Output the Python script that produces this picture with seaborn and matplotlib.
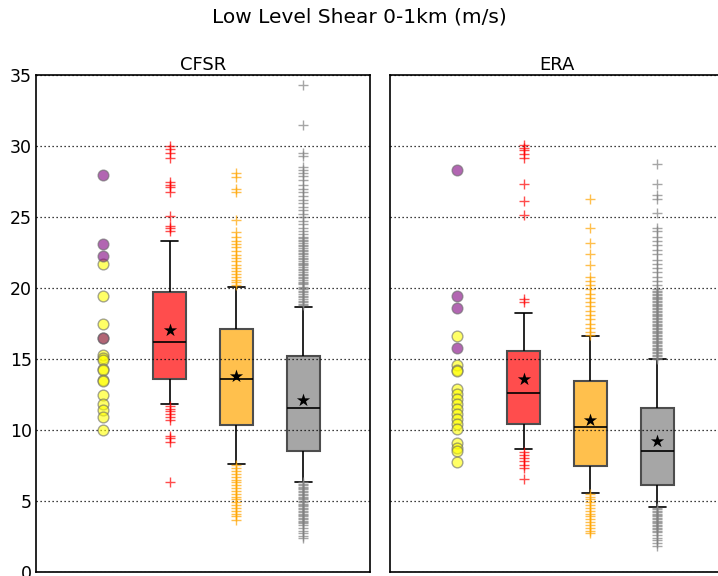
import numpy as np
import pandas as pd
import seaborn as sns
import matplotlib.pyplot as plt

# ---------------- data ----------------
panels = ["CFSR", "ERA"]
box_positions = [2, 3, 4]
scatter_position = 1
box_colors = ["#FF4D4D", "#FFC04D", "#A6A6A6"]
flier_colors = ["red", "orange", "gray"]

# five-number summaries: [lower whisker, Q1, median, Q3, upper whisker]
cfsr_red_box = [11.82, 13.57, 16.22, 19.70, 23.34]
cfsr_orange_box = [7.59, 10.32, 13.61, 17.11, 20.10]
cfsr_gray_box = [6.35, 8.51, 11.52, 15.21, 18.69]
era_red_box = [8.67, 10.41, 12.62, 15.58, 18.26]
era_orange_box = [5.57, 7.45, 10.20, 13.42, 16.60]
era_gray_box = [4.54, 6.09, 8.53, 11.54, 14.97]

cfsr_means = [17.02, 13.80, 12.11]
era_means = [13.61, 10.70, 9.24]

cfsr_red_fliers = [30.0, 29.8, 29.5, 29.2, 27.5, 27.3, 27.1, 26.8, 25.1, 24.4, 24.2, 24.0,
                   11.7, 11.5, 11.3, 11.1, 10.9, 10.7, 9.6, 9.4, 9.15, 6.35]
cfsr_orange_fliers = [28.1, 27.85, 27.0, 26.8, 24.8, 23.95, 23.6, 23.35, 23.1, 22.9, 22.6,
                      22.3, 22.1, 21.9, 21.6, 21.4, 21.2, 21.0, 20.8, 20.6, 20.4, 20.2,
                      7.5, 7.3, 7.1, 6.9, 6.7, 6.5, 6.3, 6.1, 5.9, 5.7, 5.5, 5.3, 5.1,
                      4.9, 4.7, 4.5, 4.3, 4.1, 3.9, 3.65]
cfsr_gray_fliers = [34.3, 31.5, 29.5, 29.3, 28.5, 28.3, 28.1, 27.9, 27.6, 27.3, 27.0, 26.8,
                    26.5, 26.2, 26.0, 25.7, 25.5, 25.2, 25.0, 24.7, 24.5, 24.2, 24.0, 23.8,
                    23.6, 23.5, 23.4, 23.3, 23.15, 23.05, 22.95, 22.8, 22.7, 22.6, 22.5,
                    22.4, 22.25, 22.15, 22.05, 21.9, 21.8, 21.7, 21.6, 21.5, 21.35, 21.25,
                    21.15, 21.0, 20.9, 20.8, 20.7, 20.6, 20.45, 20.35, 20.25, 20.1, 20.0,
                    19.9, 19.8, 19.7, 19.55, 19.45, 19.35, 19.2, 19.1, 19.0, 18.9, 18.8,
                    6.3, 6.2, 6.1, 6.0, 5.9, 5.8, 5.7, 5.6, 5.5, 5.4, 5.3, 5.2, 5.1, 5.0,
                    4.9, 4.8, 4.7, 4.6, 4.5, 4.4, 4.3, 4.2, 4.1, 4.0, 3.9, 3.8, 3.7, 3.6,
                    3.5, 3.4, 3.3, 3.1, 2.9, 2.7, 2.5, 2.4]
era_red_fliers = [30.1, 29.85, 29.7, 29.45, 29.15, 27.35, 26.15, 25.15, 19.25, 19.0,
                  8.45, 8.2, 8.0, 7.8, 7.55, 7.3, 6.55]
era_orange_fliers = [26.3, 24.2, 23.2, 22.4, 21.6, 20.8, 20.5, 20.2, 19.9, 19.6, 19.3,
                     19.0, 18.7, 18.4, 18.1, 17.8, 17.5, 17.2, 16.9, 16.7,
                     5.5, 5.3, 5.1, 4.9, 4.7, 4.5, 4.3, 4.1, 3.9, 3.7, 3.5, 3.3, 3.1,
                     2.9, 2.7]
era_gray_fliers = [28.75, 27.35, 26.55, 26.3, 25.3, 24.2, 24.0, 23.6, 23.3, 23.0, 22.7,
                   22.4, 22.0, 21.7, 21.4, 21.1, 20.8, 20.5, 20.2,
                   19.9, 19.8, 19.7, 19.6, 19.5, 19.4, 19.3, 19.2, 19.1, 19.0, 18.9,
                   18.8, 18.7, 18.6, 18.5, 18.4, 18.3, 18.2, 18.1, 18.0, 17.9, 17.8,
                   17.7, 17.6, 17.5, 17.4, 17.3, 17.2, 17.1, 17.0, 16.9, 16.8, 16.7,
                   16.6, 16.5, 16.4, 16.3, 16.2, 16.1, 16.0, 15.9, 15.8, 15.7, 15.6,
                   15.5, 15.4, 15.3, 15.2, 15.1, 15.0,
                   4.5, 4.4, 4.3, 4.2, 4.1, 4.0, 3.9, 3.8, 3.7, 3.6, 3.5, 3.4, 3.3, 3.2,
                   3.1, 3.0, 2.9, 2.8, 2.6, 2.4, 2.2, 2.0, 1.8]

cfsr_yellow = [21.7, 19.45, 17.5, 16.5, 15.25, 15.05, 14.9, 14.3, 14.2, 13.5, 13.45,
               12.45, 11.85, 11.4, 10.9, 10.0]
cfsr_purple = [28.0, 23.1, 22.25, 16.5]
era_yellow = [16.65, 14.6, 14.2, 14.15, 12.85, 12.5, 12.15, 11.8, 11.45, 11.1, 10.75,
              10.4, 10.05, 9.1, 8.75, 8.5, 7.75]
era_purple = [28.35, 19.45, 18.6, 15.75]

y_ticks = [0, 5, 10, 15, 20, 25, 30, 35]
title = "Low Level Shear 0-1km (m/s)"

panel_data = {
    "CFSR": dict(boxes=[cfsr_red_box, cfsr_orange_box, cfsr_gray_box], means=cfsr_means,
                 fliers=[cfsr_red_fliers, cfsr_orange_fliers, cfsr_gray_fliers],
                 yellow=cfsr_yellow, purple=cfsr_purple),
    "ERA": dict(boxes=[era_red_box, era_orange_box, era_gray_box], means=era_means,
                fliers=[era_red_fliers, era_orange_fliers, era_gray_fliers],
                yellow=era_yellow, purple=era_purple),
}

# ---------------- plotting ----------------
sns.set_theme(style="white")
plt.rcParams["font.family"] = ["DejaVu Sans"]
plt.rcParams["axes.edgecolor"] = "black"
plt.rcParams["text.color"] = "black"
plt.rcParams["axes.titlecolor"] = "black"
plt.rcParams["xtick.color"] = "black"
plt.rcParams["ytick.color"] = "black"
plt.rcParams["ytick.labelcolor"] = "black"

fig = plt.figure(figsize=(7.18, 5.76), dpi=100)
W, H = 718, 576
bottom = (H - 571.7) / H
height = 496.4 / H
axL = fig.add_axes([36 / W, bottom, 334 / W, height])
axR = fig.add_axes([390 / W, bottom, 334 / W, height], sharey=axL)

for ax, name in zip([axL, axR], panels):
    d = panel_data[name]
    rows = []
    for pos, stats in zip(box_positions, d["boxes"]):
        for v in stats:
            rows.append({"pos": pos, "val": v})
    df = pd.DataFrame(rows)
    sns.boxplot(data=df, x="pos", y="val", hue="pos",
                palette=dict(zip(box_positions, box_colors)),
                native_scale=True, whis=(0, 100), showfliers=False, width=0.5,
                saturation=1, legend=False, ax=ax, linecolor="black", linewidth=1.2,
                boxprops={"edgecolor": "#4d4d4d", "linewidth": 1.5},
                medianprops={"color": "black", "linewidth": 1.2},
                whiskerprops={"color": "black", "linewidth": 1.2},
                capprops={"color": "black", "linewidth": 1.2})

    for pos, fl, c in zip(box_positions, d["fliers"], flier_colors):
        sns.scatterplot(x=[pos] * len(fl), y=fl, marker="+", color=c, s=45,
                        linewidth=1.0, alpha=0.7, ax=ax, zorder=3)

    sns.scatterplot(x=box_positions, y=d["means"], marker="*", color="black", s=100,
                    linewidth=0, ax=ax, zorder=6)

    sns.scatterplot(x=[scatter_position] * len(d["yellow"]), y=d["yellow"], color="yellow",
                    alpha=0.6, s=60, edgecolor="dimgray", linewidth=1, ax=ax, zorder=4)
    sns.scatterplot(x=[scatter_position] * len(d["purple"]), y=d["purple"], color="purple",
                    alpha=0.6, s=60, edgecolor="dimgray", linewidth=1, ax=ax, zorder=4)

    ax.set_xlim(0, 5)
    ax.set_ylim(0, 35)
    ax.set_yticks(y_ticks)
    ax.set_xticks([])
    ax.set_xlabel("")
    ax.set_ylabel("")
    ax.yaxis.grid(True, linestyle=(0, (1, 2.2)), color="black", linewidth=0.9)
    ax.set_axisbelow(False)
    ax.tick_params(axis="y", length=0, labelsize=12.5, pad=3, labelcolor="black")
    for s in ax.spines.values():
        s.set_color("black")
        s.set_linewidth(1.2)
    ax.set_title(name, fontsize=13, pad=4, color="black")

plt.setp(axR.get_yticklabels(), visible=False)

fig.text(0.5, 1 - 17 / H, title, ha="center", va="center", fontsize=14.5, color="black")

fig.savefig("out.png", dpi=100)
